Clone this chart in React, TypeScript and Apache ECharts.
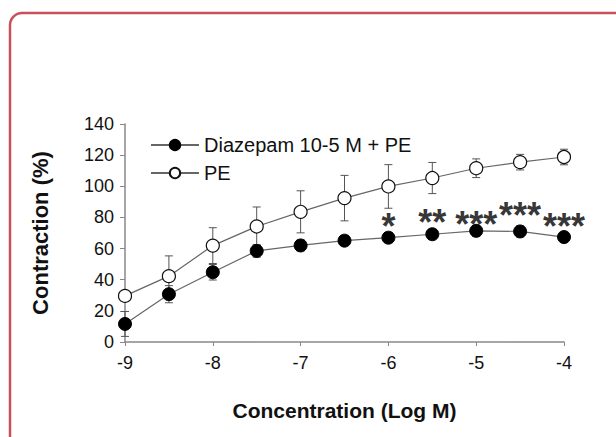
import React, { useEffect, useRef } from "react";
import * as echarts from "echarts";

const concentrations = [-9, -8.5, -8, -7.5, -7, -6.5, -6, -5.5, -5, -4.5, -4];
const diazepamValues = [11.6, 30.7, 44.8, 58.5, 62, 65.1, 67, 69.2, 71.4, 71, 67.4];
const diazepamErrors = [8, 5.5, 5, 4, 3.5, 3, 3, 3, 3.5, 3.5, 3];
const peValues = [29.6, 42.3, 61.9, 74.2, 83.6, 92.4, 99.9, 105.3, 111.6, 115.5, 118.8];
const peErrors = [3, 13, 11.5, 12.5, 13.5, 14.6, 14, 10, 6, 5, 5];
const sigX = [-6, -5.5, -5, -4.5, -4];
const sigY = [78.5, 81, 80, 85.5, 78.5];
const sigLabels = ["*", "**", "***", "***", "***"];
const xTicks = [-9, -8, -7, -6, -5, -4];
const yTicks = [0, 20, 40, 60, 80, 100, 120, 140];

const FONT = "'Liberation Sans', Arial, sans-serif";
const DIAZ = "Diazepam 10-5 M + PE";
const PE = "PE";

export default function App() {
  const ref = useRef<HTMLDivElement>(null);
  useEffect(() => {
    document.body.style.margin = "0";
    const chart = echarts.init(ref.current!, null, { renderer: "svg" });
    const errData = (vals: number[], errs: number[]) =>
      concentrations.map((c, i) => [c, vals[i], errs[i]]);
    const renderErr = (params: any, api: any) => {
      const x = api.value(0);
      const y = api.value(1);
      const e = api.value(2);
      const top = api.coord([x, y + e]);
      const bot = api.coord([x, y - e]);
      const hw = 4;
      const style = { stroke: "#555", lineWidth: 1 };
      return {
        type: "group",
        children: [
          { type: "line", shape: { x1: top[0], y1: top[1], x2: bot[0], y2: bot[1] }, style },
          { type: "line", shape: { x1: top[0] - hw, y1: top[1], x2: top[0] + hw, y2: top[1] }, style },
          { type: "line", shape: { x1: bot[0] - hw, y1: bot[1], x2: bot[0] + hw, y2: bot[1] }, style },
        ],
      };
    };
    chart.setOption({
      animation: false,
      textStyle: { fontFamily: FONT },
      grid: { left: 125, right: 52, top: 124, bottom: 95 },
      graphic: [
        {
          type: "rect",
          shape: { x: 10, y: 13, width: 700, height: 520, r: 12 },
          style: { fill: "none", stroke: "#c9515a", lineWidth: 2.5 },
          z: 100,
        },
      ],
      legend: {
        data: [DIAZ, PE],
        orient: "vertical",
        left: 145,
        top: 130,
        itemWidth: 48,
        itemHeight: 13,
        itemGap: 8,
        textStyle: { fontSize: 20, color: "#111", fontFamily: FONT },
      },
      xAxis: {
        type: "value",
        min: -9,
        max: -4,
        interval: 1,
        name: "Concentration (Log M)",
        nameLocation: "middle",
        nameGap: 58,
        nameTextStyle: { fontSize: 21, fontWeight: "bold", color: "#111", fontFamily: FONT },
        axisLine: { lineStyle: { color: "#888", width: 1.5 } },
        axisTick: { show: true, length: 4, lineStyle: { color: "#888" } },
        splitLine: { show: false },
        axisLabel: {
          fontSize: 18,
          color: "#111",
          margin: 12,
          formatter: (v: number) => (xTicks.includes(v) ? String(v) : ""),
        },
      },
      yAxis: {
        type: "value",
        min: 0,
        max: 140,
        interval: 20,
        name: "Contraction (%)",
        nameLocation: "middle",
        nameGap: 74,
        nameTextStyle: { fontSize: 22, fontWeight: "bold", color: "#111", fontFamily: FONT },
        axisLine: { show: true, lineStyle: { color: "#888", width: 1.5 } },
        axisTick: { show: true, length: 5, lineStyle: { color: "#888" } },
        splitLine: { show: false },
        axisLabel: {
          fontSize: 18,
          color: "#111",
          margin: 11,
          formatter: (v: number) => (yTicks.includes(v) ? String(v) : ""),
        },
      },
      series: [
        {
          type: "custom",
          name: "peErr",
          renderItem: renderErr,
          data: errData(peValues, peErrors),
          z: 1,
        },
        {
          type: "custom",
          name: "diazErr",
          renderItem: renderErr,
          data: errData(diazepamValues, diazepamErrors),
          z: 1,
        },
        {
          type: "line",
          name: PE,
          data: concentrations.map((c, i) => [c, peValues[i]]),
          symbol: "circle",
          symbolSize: 13,
          lineStyle: { color: "#666", width: 1.2 },
          itemStyle: { color: "#fff", borderColor: "#111", borderWidth: 1.2 },
          z: 3,
        },
        {
          type: "line",
          name: DIAZ,
          data: concentrations.map((c, i) => [c, diazepamValues[i]]),
          symbol: "circle",
          symbolSize: 13,
          lineStyle: { color: "#666", width: 1.2 },
          itemStyle: { color: "#000", borderColor: "#000", borderWidth: 1 },
          z: 3,
        },
        {
          type: "scatter",
          name: "sig",
          symbolSize: 0,
          itemStyle: { color: "#000" },
          data: sigX.map((x, i) => [x, sigY[i], sigLabels[i]]),
          label: {
            show: true,
            position: "inside",
            formatter: (p: any) => p.value[2],
            fontSize: 36,
            fontWeight: "bold",
            color: "#000",
            textBorderWidth: 0,
            textBorderColor: "transparent",
            fontFamily: FONT,
            offset: [0, 7],
          },
          z: 4,
        },
      ],
    });
    return () => chart.dispose();
  }, []);
  return <div ref={ref} style={{ width: 616, height: 437 }} />;
}
